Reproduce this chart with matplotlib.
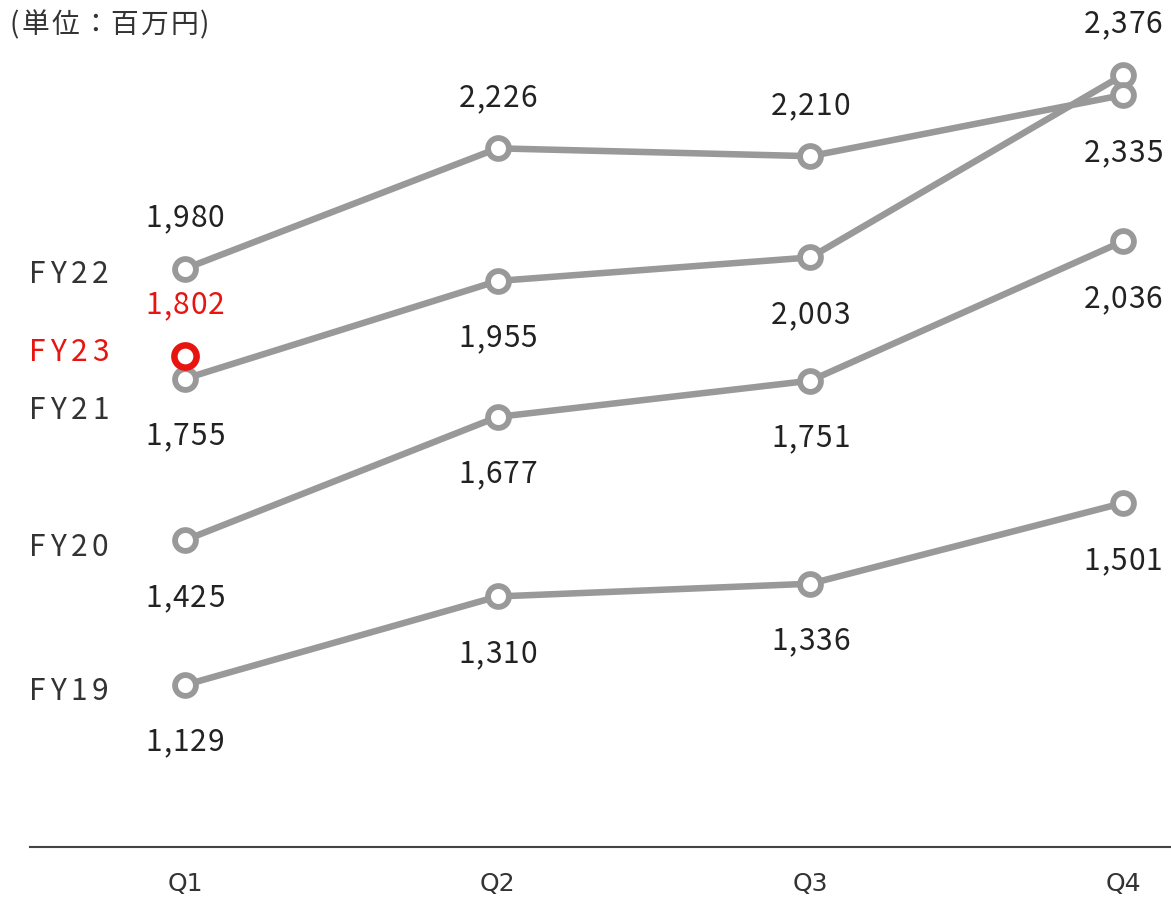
import matplotlib
matplotlib.use('Agg')
import matplotlib.pyplot as plt

plt.rcParams['font.family'] = ['Noto Sans CJK JP', 'DejaVu Sans']

# Data
quarters = ['Q1', 'Q2', 'Q3', 'Q4']
fy19 = [1129, 1310, 1336, 1501]
fy20 = [1425, 1677, 1751, 2036]
fy21 = [1755, 1955, 2003, 2376]
fy22 = [1980, 2226, 2210, 2335]
fy23 = [1802]

# label side per point: 1 = above, -1 = below
side19 = [-1, -1, -1, -1]
side20 = [-1, -1, -1, -1]
side21 = [-1, -1, -1, 1]
side22 = [1, 1, 1, -1]
side23 = [1]

series = [('FY19', fy19, side19), ('FY20', fy20, side20),
          ('FY21', fy21, side21), ('FY22', fy22, side22)]
# y of series name label (value units)
name_y = {'FY22': 1971, 'FY23': 1811, 'FY21': 1693, 'FY20': 1413, 'FY19': 1117}

grey = '#999999'
red = '#e8140f'
txt = '#222222'

W, H = 1171, 903
fig = plt.figure(figsize=(W / 100, H / 100), dpi=100)
ax = fig.add_axes([0, 0, 1, 1])
ax.set_xlim(-0.5917, 3.1535)
ax.set_ylim(685.4, 2531.3)
ax.axis('off')
renderer = fig.canvas.get_renderer()

x = list(range(len(quarters)))


# text drawn char by char with extra letter spacing, centred on pixel (px, py)
def spaced_text(px, py, s, color, size, gap, ha='center'):
    widths = []
    for ch in s:
        t = fig.text(0, 0, ch, fontsize=size)
        widths.append(t.get_window_extent(renderer).width)
        t.remove()
    total = sum(widths) + gap * (len(s) - 1)
    x0 = px - total / 2 if ha == 'center' else px
    for ch, w in zip(s, widths):
        fig.text(x0 / W, py / H, ch, ha='left', va='center', fontsize=size, color=color)
        x0 += w + gap


def put_labels(vals, sides, color):
    for i, v in enumerate(vals):
        off = 51 if sides[i] > 0 else -57
        px, py = ax.transData.transform((x[i], v))
        spaced_text(px, py + off, f'{v:,}', color, 21.5, 1.0)


for name, vals, sides in series:
    ax.plot(x, vals, color=grey, lw=4.7, marker='o', ms=15, mfc='white',
            mec=grey, mew=4.2, zorder=2)
    put_labels(vals, sides, txt)
    py = ax.transData.transform((0, name_y[name]))[1]
    spaced_text(69, py, name, '#333333', 21.5, 4.5)

ax.plot(x[:len(fy23)], fy23, color=red, lw=4.7, marker='o', ms=16, mfc='white',
        mec=red, mew=4.7, zorder=3)
put_labels(fy23, side23, red)
py = ax.transData.transform((0, name_y['FY23']))[1]
spaced_text(69, py, 'FY23', red, 21.5, 4.5)

# baseline and quarter labels
ax.axhline(798, xmin=30 / W, xmax=1, color='#444444', lw=1.5)
for i, q in enumerate(quarters):
    ax.text(x[i], 725, q, ha='center', va='center', fontsize=18,
            family='DejaVu Sans', color='#333333')

spaced_text(10, H - 25, '(単位：百万円)', '#333333', 20, 2, ha='left')

fig.savefig('out.png', dpi=100)
